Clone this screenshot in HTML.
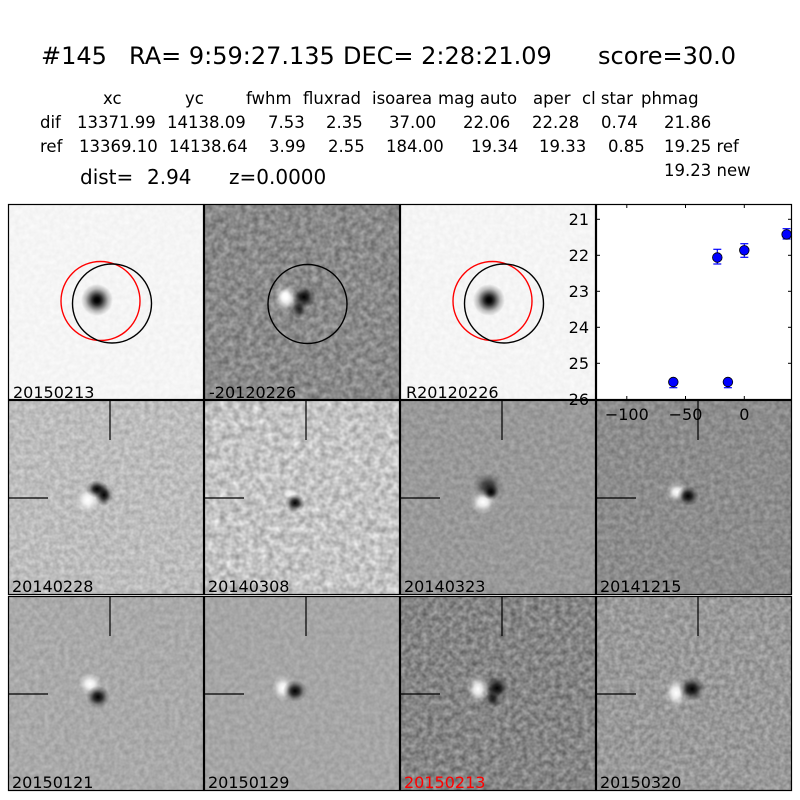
<!DOCTYPE html>
<html><head><meta charset="utf-8"><style>
html,body{margin:0;padding:0;background:#fff;}
svg{display:block;}
text{font-family:"DejaVu Sans","Liberation Sans",sans-serif;fill:#000;}
</style></head><body>
<svg width="800" height="800" viewBox="0 0 800 800" xmlns="http://www.w3.org/2000/svg">
<defs>
<radialGradient id="gb"><stop offset="0" stop-color="#000" stop-opacity="1"/><stop offset="0.35" stop-color="#000" stop-opacity="0.75"/><stop offset="0.7" stop-color="#000" stop-opacity="0.25"/><stop offset="1" stop-color="#000" stop-opacity="0"/></radialGradient>
<radialGradient id="gw"><stop offset="0" stop-color="#fff" stop-opacity="1"/><stop offset="0.35" stop-color="#fff" stop-opacity="0.8"/><stop offset="0.7" stop-color="#fff" stop-opacity="0.25"/><stop offset="1" stop-color="#fff" stop-opacity="0"/></radialGradient>
<filter id="n1" x="0" y="0" width="1" height="1" color-interpolation-filters="sRGB"><feTurbulence type="fractalNoise" baseFrequency="0.2" numOctaves="2" seed="1"/><feColorMatrix type="matrix" values="0.06 0 0 0 0.93  0.06 0 0 0 0.93  0.06 0 0 0 0.93  0 0 0 0 1"/></filter>
<filter id="n2" x="0" y="0" width="1" height="1" color-interpolation-filters="sRGB"><feTurbulence type="fractalNoise" baseFrequency="0.17" numOctaves="2" seed="2"/><feColorMatrix type="matrix" values="0.38 0 0 0 0.35  0.38 0 0 0 0.35  0.38 0 0 0 0.35  0 0 0 0 1"/></filter>
<filter id="n3" x="0" y="0" width="1" height="1" color-interpolation-filters="sRGB"><feTurbulence type="fractalNoise" baseFrequency="0.2" numOctaves="2" seed="3"/><feColorMatrix type="matrix" values="0.06 0 0 0 0.93  0.06 0 0 0 0.93  0.06 0 0 0 0.93  0 0 0 0 1"/></filter>
<filter id="n5" x="0" y="0" width="1" height="1" color-interpolation-filters="sRGB"><feTurbulence type="fractalNoise" baseFrequency="0.2" numOctaves="2" seed="5"/><feColorMatrix type="matrix" values="0.25 0 0 0 0.615  0.25 0 0 0 0.615  0.25 0 0 0 0.615  0 0 0 0 1"/></filter>
<filter id="n6" x="0" y="0" width="1" height="1" color-interpolation-filters="sRGB"><feTurbulence type="fractalNoise" baseFrequency="0.15" numOctaves="2" seed="6"/><feColorMatrix type="matrix" values="0.45 0 0 0 0.54  0.45 0 0 0 0.54  0.45 0 0 0 0.54  0 0 0 0 1"/></filter>
<filter id="n7" x="0" y="0" width="1" height="1" color-interpolation-filters="sRGB"><feTurbulence type="fractalNoise" baseFrequency="0.2" numOctaves="2" seed="7"/><feColorMatrix type="matrix" values="0.2 0 0 0 0.5  0.2 0 0 0 0.5  0.2 0 0 0 0.5  0 0 0 0 1"/></filter>
<filter id="n8" x="0" y="0" width="1" height="1" color-interpolation-filters="sRGB"><feTurbulence type="fractalNoise" baseFrequency="0.2" numOctaves="2" seed="8"/><feColorMatrix type="matrix" values="0.25 0 0 0 0.425  0.25 0 0 0 0.425  0.25 0 0 0 0.425  0 0 0 0 1"/></filter>
<filter id="n9" x="0" y="0" width="1" height="1" color-interpolation-filters="sRGB"><feTurbulence type="fractalNoise" baseFrequency="0.2" numOctaves="2" seed="9"/><feColorMatrix type="matrix" values="0.18 0 0 0 0.575  0.18 0 0 0 0.575  0.18 0 0 0 0.575  0 0 0 0 1"/></filter>
<filter id="n10" x="0" y="0" width="1" height="1" color-interpolation-filters="sRGB"><feTurbulence type="fractalNoise" baseFrequency="0.2" numOctaves="2" seed="10"/><feColorMatrix type="matrix" values="0.15 0 0 0 0.575  0.15 0 0 0 0.575  0.15 0 0 0 0.575  0 0 0 0 1"/></filter>
<filter id="n11" x="0" y="0" width="1" height="1" color-interpolation-filters="sRGB"><feTurbulence type="fractalNoise" baseFrequency="0.18" numOctaves="2" seed="11"/><feColorMatrix type="matrix" values="0.4 0 0 0 0.32  0.4 0 0 0 0.32  0.4 0 0 0 0.32  0 0 0 0 1"/></filter>
<filter id="n12" x="0" y="0" width="1" height="1" color-interpolation-filters="sRGB"><feTurbulence type="fractalNoise" baseFrequency="0.2" numOctaves="2" seed="12"/><feColorMatrix type="matrix" values="0.3 0 0 0 0.45  0.3 0 0 0 0.45  0.3 0 0 0 0.45  0 0 0 0 1"/></filter>
</defs>
<rect width="800" height="800" fill="#fff"/>

<!-- header -->
<text x="41" y="64" font-size="24">#145</text>
<text x="129" y="64" font-size="24">RA= 9:59:27.135</text>
<text x="343" y="64" font-size="24">DEC= 2:28:21.09</text>
<text x="598" y="64" font-size="24">score=30.0</text>

<g font-size="16.5">
<text x="103" y="104">xc</text><text x="185" y="104">yc</text><text x="246" y="104">fwhm</text><text x="303" y="104">fluxrad</text><text x="372" y="104">isoarea</text><text x="438" y="104">mag auto</text><text x="533" y="104">aper</text><text x="582" y="104">cl star</text><text x="641" y="104">phmag</text>
<text x="40" y="128">dif</text><text x="77" y="128">13371.99</text><text x="167" y="128">14138.09</text><text x="268" y="128">7.53</text><text x="326" y="128">2.35</text><text x="389" y="128">37.00</text><text x="463" y="128">22.06</text><text x="532" y="128">22.28</text><text x="601" y="128">0.74</text><text x="664" y="128">21.86</text>
<text x="40" y="152">ref</text><text x="79" y="152">13369.10</text><text x="169" y="152">14138.64</text><text x="269" y="152">3.99</text><text x="328" y="152">2.55</text><text x="386" y="152">184.00</text><text x="471" y="152">19.34</text><text x="539" y="152">19.33</text><text x="608" y="152">0.85</text><text x="664" y="152">19.25 ref</text>
<text x="664" y="176">19.23 new</text>
</g>
<text x="80" y="184" font-size="20">dist=</text><text x="147" y="184" font-size="20">2.94</text><text x="229" y="184" font-size="20">z=0.0000</text>

<!-- Row 1 -->
<rect x="8" y="204" width="196" height="196" filter="url(#n1)"/>
<ellipse cx="97" cy="300" rx="16" ry="16" fill="url(#gb)"/>
<ellipse cx="97" cy="300" rx="6" ry="6" fill="url(#gb)"/>
<circle cx="100.5" cy="301" r="39.5" fill="none" stroke="#f00" stroke-width="1.4"/>
<circle cx="112" cy="303.5" r="39.5" fill="none" stroke="#000" stroke-width="1.4"/>

<rect x="204" y="204" width="196" height="196" filter="url(#n2)"/>
<ellipse cx="286" cy="298" rx="12" ry="14" fill="url(#gw)"/>
<ellipse cx="285" cy="296" rx="6" ry="7" fill="url(#gw)"/>
<ellipse cx="304" cy="297" rx="12" ry="11" fill="url(#gb)"/>
<ellipse cx="299" cy="309" rx="8" ry="10" fill="url(#gb)" opacity="0.8"/>
<circle cx="307.5" cy="304" r="39.5" fill="none" stroke="#000" stroke-width="1.4"/>

<rect x="400" y="204" width="196" height="196" filter="url(#n3)"/>
<ellipse cx="489" cy="300" rx="16" ry="16" fill="url(#gb)"/>
<ellipse cx="489" cy="300" rx="6" ry="6" fill="url(#gb)"/>
<circle cx="492.5" cy="301" r="39.5" fill="none" stroke="#f00" stroke-width="1.4"/>
<circle cx="504" cy="303.5" r="39.5" fill="none" stroke="#000" stroke-width="1.4"/>

<!-- Row 2 -->
<rect x="8" y="400" width="196" height="195" filter="url(#n5)"/>
<ellipse cx="88" cy="500" rx="12" ry="13" fill="url(#gw)"/>
<ellipse cx="97" cy="489" rx="11" ry="9" fill="url(#gb)"/>
<ellipse cx="104" cy="495" rx="9" ry="11" fill="url(#gb)"/>

<rect x="204" y="400" width="196" height="195" filter="url(#n6)"/>
<ellipse cx="290" cy="494" rx="10" ry="7" fill="url(#gw)" opacity="0.8"/>
<ellipse cx="295" cy="503" rx="10" ry="9" fill="url(#gb)"/>

<rect x="400" y="400" width="196" height="195" filter="url(#n7)"/>
<ellipse cx="483" cy="502" rx="13" ry="12" fill="url(#gw)"/>
<ellipse cx="488" cy="486" rx="15" ry="13" fill="url(#gb)" opacity="0.7"/>
<ellipse cx="491" cy="492" rx="8" ry="8" fill="url(#gb)"/>

<rect x="596" y="400" width="196" height="195" filter="url(#n8)"/>
<ellipse cx="677" cy="492" rx="11" ry="10" fill="url(#gw)"/>
<ellipse cx="688" cy="496" rx="11" ry="10" fill="url(#gb)"/>

<!-- Row 3 -->
<rect x="8" y="596" width="196" height="195" filter="url(#n9)"/>
<ellipse cx="90" cy="684" rx="12" ry="11" fill="url(#gw)"/>
<ellipse cx="98" cy="697" rx="12" ry="11" fill="url(#gb)"/>

<rect x="204" y="596" width="196" height="195" filter="url(#n10)"/>
<ellipse cx="283" cy="688" rx="11" ry="13" fill="url(#gw)"/>
<ellipse cx="295" cy="691" rx="12" ry="11" fill="url(#gb)"/>

<rect x="400" y="596" width="196" height="195" filter="url(#n11)"/>
<ellipse cx="478" cy="689" rx="11" ry="14" fill="url(#gw)"/>
<ellipse cx="497" cy="688" rx="12" ry="11" fill="url(#gb)"/>
<ellipse cx="493" cy="699" rx="8" ry="9" fill="url(#gb)" opacity="0.8"/>

<rect x="596" y="596" width="196" height="195" filter="url(#n12)"/>
<ellipse cx="676" cy="693" rx="11" ry="15" fill="url(#gw)"/>
<ellipse cx="692" cy="689" rx="13" ry="12" fill="url(#gb)"/>

<!-- frames -->
<g fill="none" stroke="#000" stroke-width="1.2">
<rect x="8.5" y="204.5" width="195" height="195"/>
<rect x="204.5" y="204.5" width="195" height="195"/>
<rect x="400.5" y="204.5" width="195" height="195"/>
<rect x="596.5" y="204.5" width="195" height="195"/>
<rect x="8.5" y="400.5" width="195" height="194"/>
<rect x="204.5" y="400.5" width="195" height="194"/>
<rect x="400.5" y="400.5" width="195" height="194"/>
<rect x="596.5" y="400.5" width="195" height="194"/>
<rect x="8.5" y="596.5" width="195" height="194"/>
<rect x="204.5" y="596.5" width="195" height="194"/>
<rect x="400.5" y="596.5" width="195" height="194"/>
<rect x="596.5" y="596.5" width="195" height="194"/>
</g>

<!-- crosshairs -->
<g stroke="#000" stroke-width="1.2">
<line x1="110" y1="400" x2="110" y2="440"/><line x1="8" y1="498" x2="48" y2="498"/>
<line x1="306" y1="400" x2="306" y2="440"/><line x1="204" y1="498" x2="244" y2="498"/>
<line x1="502" y1="400" x2="502" y2="440"/><line x1="400" y1="498" x2="440" y2="498"/>
<line x1="698" y1="400" x2="698" y2="440"/><line x1="596" y1="498" x2="636" y2="498"/>
<line x1="110" y1="596" x2="110" y2="636"/><line x1="8" y1="694" x2="48" y2="694"/>
<line x1="306" y1="596" x2="306" y2="636"/><line x1="204" y1="694" x2="244" y2="694"/>
<line x1="502" y1="596" x2="502" y2="636"/><line x1="400" y1="694" x2="440" y2="694"/>
<line x1="698" y1="596" x2="698" y2="636"/><line x1="596" y1="694" x2="636" y2="694"/>
</g>

<!-- panel labels -->
<g font-size="16">
<text x="13" y="398">20150213</text>
<text x="209" y="398">-20120226</text>
<text x="406" y="398">R20120226</text>
<text x="12" y="592">20140228</text>
<text x="208" y="592">20140308</text>
<text x="404" y="592">20140323</text>
<text x="600" y="592">20141215</text>
<text x="12" y="788">20150121</text>
<text x="208" y="788">20150129</text>
<text x="404" y="788" style="fill:#f00">20150213</text>
<text x="600" y="788">20150320</text>
</g>

<!-- light curve plot -->
<g stroke="#000" stroke-width="1">
<line x1="626.8" y1="400" x2="626.8" y2="396"/><line x1="685.5" y1="400" x2="685.5" y2="396"/><line x1="744.3" y1="400" x2="744.3" y2="396"/>
<line x1="626.8" y1="204" x2="626.8" y2="208"/><line x1="685.5" y1="204" x2="685.5" y2="208"/><line x1="744.3" y1="204" x2="744.3" y2="208"/>
<line x1="596" y1="219.3" x2="600" y2="219.3"/><line x1="596" y1="255.3" x2="600" y2="255.3"/><line x1="596" y1="291.3" x2="600" y2="291.3"/><line x1="596" y1="327.3" x2="600" y2="327.3"/><line x1="596" y1="363.3" x2="600" y2="363.3"/>
<line x1="792" y1="219.3" x2="788" y2="219.3"/><line x1="792" y1="255.3" x2="788" y2="255.3"/><line x1="792" y1="291.3" x2="788" y2="291.3"/><line x1="792" y1="327.3" x2="788" y2="327.3"/><line x1="792" y1="363.3" x2="788" y2="363.3"/>
</g>
<g stroke="#00f" stroke-width="1.2">
<line x1="717.3" y1="249.3" x2="717.3" y2="264"/><line x1="713.3" y1="249.3" x2="721.3" y2="249.3"/><line x1="713.3" y1="264" x2="721.3" y2="264"/>
<line x1="744.3" y1="243.7" x2="744.3" y2="257.3"/><line x1="740.3" y1="243.7" x2="748.3" y2="243.7"/><line x1="740.3" y1="257.3" x2="748.3" y2="257.3"/>
<line x1="786.6" y1="228.7" x2="786.6" y2="239"/><line x1="782.6" y1="228.7" x2="790.6" y2="228.7"/><line x1="782.6" y1="239" x2="790.6" y2="239"/>
<line x1="673.3" y1="377" x2="673.3" y2="387.7"/><line x1="669.3" y1="387.7" x2="677.3" y2="387.7"/>
<line x1="727.9" y1="377" x2="727.9" y2="387.7"/><line x1="723.9" y1="387.7" x2="731.9" y2="387.7"/>
</g>
<g fill="#00f" stroke="#000" stroke-width="0.8">
<circle cx="673.3" cy="382" r="4.8"/>
<circle cx="717.3" cy="257.5" r="4.8"/>
<circle cx="727.9" cy="382" r="4.8"/>
<circle cx="744.3" cy="250.3" r="4.8"/>
<circle cx="786.6" cy="234.4" r="4.8"/>
</g>
<g font-size="16" text-anchor="end">
<text x="589" y="225">21</text>
<text x="589" y="261">22</text>
<text x="589" y="297">23</text>
<text x="589" y="333">24</text>
<text x="589" y="369">25</text>
<text x="589" y="405">26</text>
</g>
<g font-size="16" text-anchor="middle">
<text x="626.8" y="420">−100</text>
<text x="685.5" y="420">−50</text>
<text x="744.3" y="420">0</text>
</g>
</svg>
</body></html>
